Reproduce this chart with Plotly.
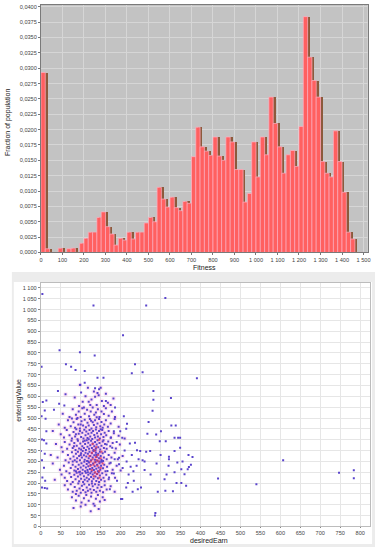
import plotly.graph_objects as go

# ---------------- data ----------------
bin_width = 20
fitness_bins = list(range(0, 1500, bin_width))  # bin start positions
fraction = [
    0.0293, 0.0006, 0, 0, 0.0007, 0, 0.0006, 0.0007, 0, 0.0015,
    0.0023, 0.0033, 0.0033, 0.0057, 0.0066, 0.0042, 0.0030, 0.0012, 0.0023, 0.0020,
    0.0033, 0.0022, 0.0033, 0.0033, 0.0048, 0.0057, 0.0050, 0.0106, 0.0087, 0.0074,
    0.0090, 0.0073, 0.0068, 0.0083, 0.0080, 0.0156, 0.0204, 0.0172, 0.0165, 0.0158,
    0.0188, 0.0157, 0.0150, 0.0188, 0.0180, 0.0135, 0.0135, 0.0082, 0.0096, 0.0180,
    0.0123, 0.0188, 0.0159, 0.0253, 0.0210, 0.0172, 0.0129, 0.0159, 0.0166, 0.0140,
    0.0205, 0.0384, 0.0318, 0.0280, 0.0253, 0.0148, 0.0129, 0.0123, 0.0198, 0.0148,
    0.0098, 0.0033, 0.0022, 0, 0,
]

sparse_points = [
    (4, 1072), (132, 1019), (264, 1019), (312, 1053), (206, 882), (47, 813), (98, 803),
    (135, 788), (63, 748), (76, 737), (87, 721), (110, 717), (2, 737), (236, 748),
    (228, 706), (255, 711), (391, 683), (142, 686), (157, 686), (99, 654), (110, 663),
    (136, 637), (146, 633), (43, 625), (101, 618), (282, 625), (282, 584), (326, 592),
    (280, 534), (270, 482), (5, 574), (14, 581), (46, 566), (59, 558), (10, 535),
    (33, 538), (2, 508), (12, 497), (14, 439), (3, 401), (8, 398), (14, 383), (0, 348),
    (10, 335), (3, 305), (8, 271), (4, 226), (11, 211), (3, 180), (10, 177), (16, 175),
    (208, 508), (216, 474), (204, 126), (214, 180), (233, 211), (243, 172), (251, 180),
    (287, 62), (286, 50), (293, 160), (312, 165), (331, 162), (310, 218), (340, 200),
    (352, 200), (364, 188), (360, 241), (342, 295), (321, 310), (352, 264), (368, 264),
    (371, 274), (274, 348), (264, 345), (241, 351), (249, 348), (245, 310), (255, 305),
    (260, 299), (267, 427), (289, 424), (301, 439), (313, 393), (298, 393), (327, 465),
    (338, 465), (335, 409), (344, 409), (349, 409), (335, 348), (349, 363), (321, 321),
    (223, 383), (236, 386), (190, 389), (183, 439), (186, 549), (163, 579), (199, 439),
    (214, 451), (204, 409), (175, 409), (165, 378), (179, 363), (196, 317), (185, 310),
    (175, 294), (196, 287), (167, 256), (183, 244), (171, 226), (191, 211), (173, 172),
    (201, 126), (444, 221), (540, 195), (607, 305), (747, 248), (784, 259), (784, 222),
    (215, 300), (225, 275), (232, 255), (220, 240), (240, 280), (210, 350), (228, 330),
    (205, 270), (218, 200), (230, 160), (260, 260), (275, 240), (290, 290), (300, 330),
    (320, 280), (315, 240), (335, 250), (355, 300), (370, 330), (380, 320), (376, 285),
]

cluster_points = [
    (62, 610), (85, 595), (98, 652), (105, 575), (112, 600), (118, 640), (124, 560), (127, 585),
    (133, 622), (136, 598), (140, 560), (145, 605), (150, 640), (153, 578), (158, 556), (163, 612),
    (168, 570), (175, 560), (182, 590), (96, 555), (120, 575), (142, 615),
    (55, 520), (72, 505), (80, 540), (88, 515), (95, 530), (100, 505), (104, 545), (110, 520),
    (116, 538), (121, 508), (125, 530), (130, 548), (134, 515), (138, 525), (143, 540), (147, 505),
    (152, 530), (158, 518), (163, 545), (170, 510), (178, 530), (186, 505), (92, 500), (108, 548),
    (140, 503),
    (45, 470), (60, 455), (68, 490), (75, 462), (82, 480), (86, 455), (90, 495), (94, 470),
    (98, 452), (102, 485), (106, 465), (110, 492), (113, 458), (117, 478), (120, 465), (123, 495),
    (127, 452), (130, 480), (133, 468), (136, 490), (139, 458), (142, 475), (146, 495), (149, 462),
    (152, 482), (155, 455), (159, 470), (163, 490), (168, 460), (175, 475), (185, 495), (195, 460),
    (78, 498), (100, 470), (126, 487),
    (30, 440), (50, 425), (58, 410), (65, 445), (72, 420), (78, 405), (82, 435), (86, 415),
    (89, 448), (92, 402), (95, 428), (98, 440), (101, 412), (104, 432), (107, 405), (109, 446),
    (112, 420), (114, 438), (117, 408), (119, 428), (122, 445), (124, 415), (127, 432), (129, 403),
    (131, 440), (134, 422), (136, 410), (138, 447), (141, 430), (143, 415), (146, 440), (148, 405),
    (151, 425), (154, 445), (157, 412), (160, 432), (164, 420), (170, 440), (176, 410), (183, 430),
    (195, 418), (210, 405), (88, 425), (120, 402), (150, 448),
    (38, 380), (52, 365), (60, 390), (66, 358), (72, 378), (77, 395), (80, 362), (84, 385),
    (87, 352), (90, 372), (93, 395), (96, 360), (99, 382), (101, 355), (104, 370), (106, 392),
    (108, 362), (111, 380), (113, 352), (115, 398), (117, 368), (119, 386), (121, 358), (124, 375),
    (126, 395), (128, 362), (130, 382), (132, 353), (134, 370), (136, 390), (138, 360), (140, 378),
    (142, 398), (144, 365), (147, 385), (149, 355), (152, 372), (155, 392), (158, 362), (161, 380),
    (165, 358), (169, 392), (174, 370), (180, 385), (188, 360), (198, 378), (83, 370), (110, 395),
    (137, 350), (157, 398),
    (25, 330), (42, 318), (55, 345), (62, 305), (68, 330), (74, 312), (78, 342), (82, 322),
    (85, 305), (88, 335), (91, 315), (93, 345), (96, 325), (98, 305), (101, 338), (103, 318),
    (105, 348), (108, 328), (110, 308), (112, 340), (114, 322), (116, 302), (118, 335), (120, 315),
    (122, 345), (124, 325), (126, 305), (128, 338), (130, 318), (132, 348), (134, 328), (136, 308),
    (138, 340), (140, 320), (142, 303), (144, 335), (146, 315), (148, 345), (150, 325), (152, 306),
    (155, 338), (158, 318), (161, 345), (165, 310), (170, 330), (177, 318), (185, 340), (193, 310),
    (205, 325), (80, 300), (100, 330), (119, 300), (139, 330), (156, 302),
    (30, 290), (48, 262), (58, 280), (64, 255), (70, 295), (75, 270), (80, 285), (84, 258),
    (87, 275), (90, 298), (93, 265), (95, 285), (98, 252), (100, 272), (102, 292), (105, 262),
    (107, 280), (109, 298), (111, 255), (113, 272), (115, 288), (117, 260), (119, 278), (121, 295),
    (123, 265), (125, 283), (127, 253), (129, 270), (131, 290), (133, 260), (135, 278), (137, 297),
    (139, 266), (141, 284), (143, 255), (145, 272), (147, 292), (149, 262), (151, 280), (153, 298),
    (156, 268), (159, 285), (162, 255), (166, 275), (172, 290), (180, 262), (190, 280), (200, 258),
    (88, 255), (118, 250), (148, 298),
    (35, 215), (52, 240), (60, 225), (66, 210), (72, 245), (76, 228), (80, 205), (84, 238),
    (87, 218), (90, 248), (93, 230), (96, 208), (99, 240), (101, 220), (104, 245), (106, 205),
    (108, 232), (110, 215), (113, 248), (115, 225), (117, 208), (119, 238), (121, 218), (124, 245),
    (126, 228), (128, 208), (130, 240), (132, 220), (135, 248), (137, 230), (139, 210), (141, 242),
    (143, 222), (146, 205), (148, 235), (151, 215), (154, 245), (157, 225), (160, 208), (164, 238),
    (170, 218), (178, 245), (186, 225), (96, 250), (145, 250),
    (60, 190), (68, 170), (75, 195), (80, 160), (85, 182), (90, 165), (94, 198), (97, 175),
    (100, 155), (103, 188), (106, 168), (109, 195), (112, 158), (115, 180), (118, 165), (121, 192),
    (124, 172), (127, 155), (130, 185), (133, 168), (136, 195), (139, 160), (142, 178), (145, 192),
    (148, 165), (152, 182), (156, 158), (160, 190), (165, 170), (175, 185), (185, 160), (88, 150),
    (128, 198),
    (78, 135), (88, 120), (95, 142), (102, 110), (108, 130), (114, 145), (120, 118), (126, 138),
    (132, 105), (138, 128), (143, 145), (148, 115), (155, 135), (160, 122), (112, 100), (135, 95),
    (82, 85), (100, 92), (125, 70), (145, 80),
]

core_points = [
    (125, 300), (130, 310), (135, 295), (140, 305), (145, 300), (132, 285), (138, 320), (142, 280),
    (128, 260), (136, 250), (146, 255), (150, 270), (128, 340), (135, 350), (143, 330), (150, 315),
    (155, 290), (124, 280), (133, 232), (141, 242), (147, 225), (139, 365), (130, 380), (146, 400),
    (152, 345), (122, 325),
]

x_all = [p[0] for p in sparse_points + cluster_points]
y_all = [p[1] for p in sparse_points + cluster_points]
x_core = [p[0] for p in core_points]
y_core = [p[1] for p in core_points]
xc = [p[0] for p in cluster_points + core_points]
yc = [p[1] for p in cluster_points + core_points]

# ---------------- figure ----------------
W, H = 379, 550
def px_x(v):
    return v / W
def px_y(v):
    return 1 - v / H

fig = go.Figure()

# top histogram: brown shadow bars then red front bars
fig.add_trace(go.Bar(
    x=fitness_bins, y=fraction, width=bin_width, offset=11,
    marker=dict(color="#8c5a3c", line=dict(width=0)),
    xaxis="x", yaxis="y", showlegend=False, hoverinfo="skip"))
fig.add_trace(go.Bar(
    x=fitness_bins, y=fraction, width=bin_width, offset=0,
    marker=dict(color="#ff6060", line=dict(color="#ffb0c4", width=0.7)),
    xaxis="x", yaxis="y", showlegend=False))

# bottom scatter: pink halo, points, red core
fig.add_trace(go.Scatter(
    x=xc, y=yc, mode="markers",
    marker=dict(size=5, color="#ff8fd0", opacity=0.2, line=dict(width=0)),
    xaxis="x2", yaxis="y2", showlegend=False, hoverinfo="skip"))
fig.add_trace(go.Scatter(
    x=x_all, y=y_all, mode="markers",
    marker=dict(size=2, color="#5a44cc", symbol="square", line=dict(width=0)),
    xaxis="x2", yaxis="y2", showlegend=False))
fig.add_trace(go.Scatter(
    x=x_core, y=y_core, mode="markers",
    marker=dict(size=2, color="#d83a5a", symbol="square", opacity=0.8, line=dict(width=0)),
    xaxis="x2", yaxis="y2", showlegend=False))

tick_font = dict(family="Liberation Sans, Arial, sans-serif", size=5.6, color="#444444")
title_font = dict(family="Liberation Sans, Arial, sans-serif", size=7, color="#222222")

fig.update_layout(
    width=W, height=H, autosize=False,
    margin=dict(l=0, r=0, t=0, b=0),
    paper_bgcolor="white", plot_bgcolor="white",
    separators=", ",
    barmode="overlay", bargap=0,
    xaxis=dict(
        domain=[px_x(39.5), px_x(370.7)], anchor="y",
        range=[0, 1520], tickmode="array",
        tickvals=list(range(0, 1501, 100)), tickformat=",d",
        tickfont=tick_font, ticks="outside", ticklen=2, tickcolor="#777777",
        showgrid=True, gridcolor="#d6d6d6", gridwidth=1,
        showline=True, linecolor="#7a7a7a", linewidth=1, mirror=True,
        zeroline=False, fixedrange=True),
    yaxis=dict(
        domain=[px_y(253.3), px_y(4)], anchor="x",
        range=[0, 0.0403], tickmode="array",
        tickvals=[i * 0.0025 for i in range(17)], tickformat=".4f",
        tickfont=tick_font, ticks="outside", ticklen=2, tickcolor="#777777",
        showgrid=True, gridcolor="#d6d6d6", gridwidth=1,
        showline=True, linecolor="#7a7a7a", linewidth=1, mirror=True,
        zeroline=False, fixedrange=True),
    xaxis2=dict(
        domain=[px_x(39.3), px_x(372.7)], anchor="y2",
        range=[0, 824], tickmode="array",
        tickvals=list(range(0, 801, 50)), tickformat=",d",
        tickfont=tick_font, ticks="outside", ticklen=1, tickcolor="#888888",
        showgrid=True, gridcolor="#e6e6e6", gridwidth=1,
        showline=True, linecolor="#bcbcbc", linewidth=1, mirror=True,
        zeroline=False, fixedrange=True),
    yaxis2=dict(
        domain=[px_y(529.3), px_y(284)], anchor="x2",
        range=[0, 1123], tickmode="array",
        tickvals=list(range(0, 1101, 50)), tickformat=",d",
        tickfont=tick_font, ticks="outside", ticklen=2, tickcolor="#888888",
        showgrid=True, gridcolor="#e6e6e6", gridwidth=1,
        showline=True, linecolor="#bcbcbc", linewidth=1, mirror=True,
        zeroline=False, fixedrange=True),
    shapes=[
        # gray background of the histogram plot area (under grid)
        dict(type="rect", xref="x", yref="y", x0=-50, x1=1600, y0=0, y1=0.05,
             fillcolor="#c3c3c3", line=dict(width=0), layer="below"),
        # light gray frame around the scatter panel
        dict(type="rect", xref="paper", yref="paper",
             x0=px_x(10), x1=px_x(378), y0=px_y(550), y1=px_y(273),
             fillcolor="#ececec", line=dict(width=0), layer="below"),
        dict(type="rect", xref="paper", yref="paper",
             x0=px_x(12), x1=px_x(375), y0=px_y(547), y1=px_y(283),
             fillcolor="#ffffff", line=dict(width=0), layer="below"),
    ],
    annotations=[
        dict(text="Fitness", xref="paper", yref="paper", x=px_x(205), y=px_y(268),
             showarrow=False, font=title_font, xanchor="center", yanchor="middle"),
        dict(text="Fraction of population", xref="paper", yref="paper",
             x=px_x(6), y=px_y(122), textangle=-90, showarrow=False,
             font=title_font, xanchor="center", yanchor="middle"),
        dict(text="desiredEarn", xref="paper", yref="paper", x=px_x(210), y=px_y(543),
             showarrow=False, font=title_font, xanchor="center", yanchor="middle"),
        dict(text="enteringValue", xref="paper", yref="paper",
             x=px_x(17), y=px_y(402), textangle=-90, showarrow=False,
             font=title_font, xanchor="center", yanchor="middle"),
    ],
)

fig.write_html(
    "out.html",
    config={"displayModeBar": False, "staticPlot": True},
    post_script="document.body.style.margin='0';document.body.style.overflow='hidden';",
)
